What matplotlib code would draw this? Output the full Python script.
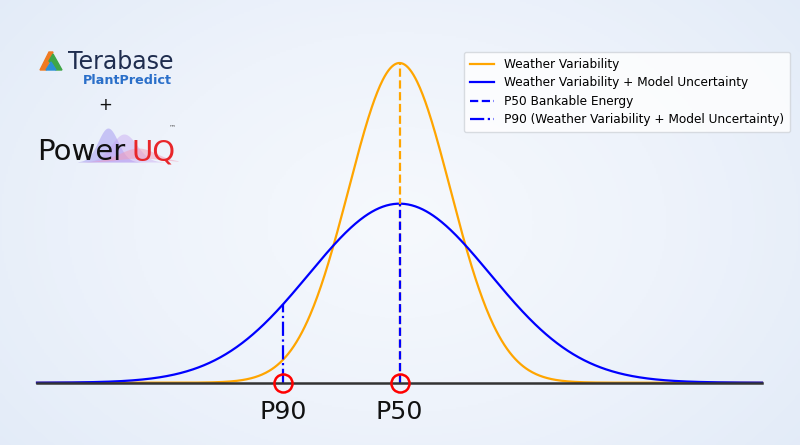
import numpy as np
import matplotlib.pyplot as plt
from matplotlib.lines import Line2D
from matplotlib.colors import LinearSegmentedColormap

# distribution parameters (energy, arbitrary units)
p50 = 100.0
sigma_weather = 5.6
sigma_total = 10.0
z_p90 = 1.2816
x_min, x_max = 60.0, 140.0
labels = ['Weather Variability',
          'Weather Variability + Model Uncertainty',
          'P50 Bankable Energy',
          'P90 (Weather Variability + Model Uncertainty)']
marker_labels = ['P90', 'P50']

x = np.linspace(x_min, x_max, 800)
def pdf(v, s):
    return np.exp(-0.5 * ((v - p50) / s) ** 2) / (s * np.sqrt(2 * np.pi))

y_weather = pdf(x, sigma_weather)
y_total = pdf(x, sigma_total)
p90 = p50 - z_p90 * sigma_total

fig = plt.figure(figsize=(8, 4.45), dpi=100)

# background gradient
bg = fig.add_axes([0, 0, 1, 1], zorder=-10)
gx, gy = np.meshgrid(np.linspace(-1, 1, 400), np.linspace(-1, 1, 223))
r = np.sqrt((gx * 0.9) ** 2 + (gy * 0.7) ** 2)
cmap = LinearSegmentedColormap.from_list('bg', ['#f6f9fd', '#eef3fb', '#e2ebf8'])
bg.imshow(r, cmap=cmap, aspect='auto', extent=[0, 1, 0, 1], vmin=0, vmax=1.2)
bg.axis('off')

ax = fig.add_axes([37 / 800, 1 - 382.7 / 445, 725 / 800, (382.7 - 63) / 445])
ax.set_facecolor('none')
peak = y_weather.max()
ax.set_xlim(x_min, x_max)
ax.set_ylim(0, peak)
ax.axis('off')

ax.plot(x, y_weather, color='orange', lw=1.6, clip_on=False)
ax.plot(x, y_total, color='blue', lw=1.6, clip_on=False)
ax.plot([p50, p50], [0, peak], color='orange', ls='--', lw=1.6, clip_on=False)
ax.plot([p50, p50], [0, pdf(p50, sigma_total)], color='blue', ls='--', lw=1.6, clip_on=False)
ax.plot([p90, p90], [0, pdf(p90, sigma_total)], color='blue', ls='-.', lw=1.6, clip_on=False)
ax.plot([x_min, x_max], [0, 0], color='#333333', lw=1.8, clip_on=False)
ax.plot([p90, p50], [0, 0], 'o', mfc='none', mec='red', ms=13, mew=1.8, clip_on=False)
for xv, lab in zip([p90, p50], marker_labels):
    ax.annotate(lab, (xv, 0), xytext=(0, -29), textcoords='offset pixels',
                ha='center', va='center', fontsize=18.2, color='#111111')

handles = [Line2D([], [], color='orange', lw=1.6),
           Line2D([], [], color='blue', lw=1.6),
           Line2D([], [], color='blue', lw=1.6, ls='--'),
           Line2D([], [], color='blue', lw=1.6, ls='-.')]
fig.legend(handles, labels, loc='upper right', bbox_to_anchor=(790 / 800, 1 - 52 / 445),
           fontsize=8.7, frameon=True, framealpha=0.8, edgecolor='#d0d4da',
           handlelength=2.0, labelspacing=0.45, borderpad=0.5, borderaxespad=0)

# logos
lg = fig.add_axes([0, 0, 1, 1], zorder=5)
lg.set_xlim(0, 800)
lg.set_ylim(445, 0)
lg.axis('off')
lg.fill([40, 49, 53, 46], [70, 52, 52, 70], color='#f07a22')
lg.fill([49, 53, 62, 56], [61, 54, 70, 70], color='#3fa648')
lg.fill([46, 51, 56], [70, 62, 70], color='#2a8fd6')
lg.text(68, 69, 'Terabase', fontsize=17, color='#1f2d4f', va='baseline')
lg.text(172, 84, 'PlantPredict', fontsize=9.2, color='#2a6fc9', fontweight='bold',
        ha='right', va='baseline')
lg.text(105, 105, '+', fontsize=12, color='#111111', ha='center', va='center')
wx = np.linspace(78, 178, 120)
lg.fill_between(wx, 162, 162 - 34 * np.exp(-((wx - 108) / 14) ** 2), color='#9b8cf0', alpha=0.45, lw=0)
lg.fill_between(wx, 162, 162 - 28 * np.exp(-((wx - 124) / 18) ** 2), color='#c39cf0', alpha=0.4, lw=0)
lg.fill_between(wx, 162 - 4 * np.exp(-((wx - 140) / 30) ** 2),
                162 - 14 * np.exp(-((wx - 138) / 26) ** 2), color='#f29bb8', alpha=0.5, lw=0)
lg.text(37, 160, 'Power', fontsize=21, color='#111111', va='baseline')
lg.text(131, 160, 'UQ', fontsize=21, color='#e8262a', va='baseline')
lg.text(172, 127, '™', fontsize=5, color='#555555', ha='center', va='center')

fig.savefig('out.png', dpi=100)
